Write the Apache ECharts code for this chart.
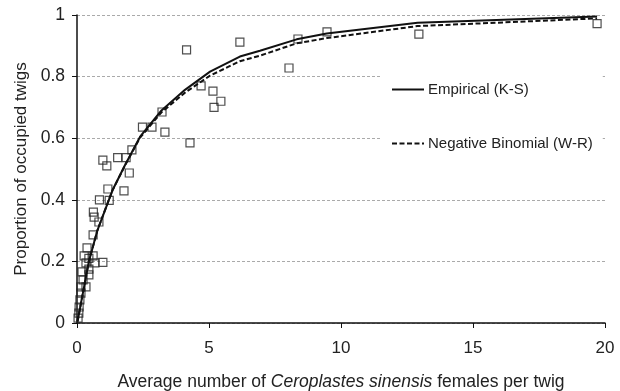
<!DOCTYPE html>
<html>
<head>
<meta charset="utf-8">
<script src="https://cdn.jsdelivr.net/npm/echarts@6/dist/echarts.min.js"></script>
<style>
  html, body { margin: 0; padding: 0; background: #fff; }
  #chart { width: 620px; height: 391px; }
</style>
</head>
<body>
<div id="chart"></div>
<script>
// observed points: mean density (m) and proportion occupied (p)
var obsM = [4.15, 6.17, 8.37, 9.47, 12.95, 19.7, 8.03, 4.7, 5.15, 5.45, 5.19, 3.22, 2.48, 2.84, 3.33, 4.28,
    2.08, 0.98, 1.13, 1.54, 1.86, 1.98, 1.17, 1.78, 0.85, 1.22, 0.62, 0.65, 0.83, 0.61, 0.38, 0.27,
    0.61, 0.45, 0.68, 0.98, 0.34, 0.45, 0.19, 0.45, 0.34, 0.23, 0.15, 0.15, 0.11, 0.08, 0.07, 0.04];
var obsP = [0.887, 0.912, 0.922, 0.945, 0.938, 0.972, 0.828, 0.77, 0.753, 0.72, 0.70, 0.685, 0.636, 0.636, 0.62, 0.585,
    0.562, 0.529, 0.51, 0.537, 0.537, 0.487, 0.435, 0.429, 0.40, 0.398, 0.36, 0.344, 0.328, 0.286, 0.244, 0.218,
    0.218, 0.21, 0.195, 0.197, 0.195, 0.175, 0.166, 0.156, 0.117, 0.14, 0.117, 0.097, 0.075, 0.052, 0.032, 0.016];

// fitted curves
var fitM = [0.02, 0.45, 0.77, 1.34, 1.82, 2.39, 3.2, 4.09, 5.04, 6.17, 6.93, 8.32, 9.46, 12.9, 19.7];
var empP = [0.005, 0.2, 0.30, 0.43, 0.513, 0.605, 0.69, 0.757, 0.816, 0.865, 0.884, 0.921, 0.94, 0.975, 0.995];
var nbP  = [0.005, 0.2, 0.30, 0.43, 0.512, 0.602, 0.684, 0.748, 0.803, 0.850, 0.868, 0.908, 0.925, 0.964, 0.989];

var xTicks = [0, 5, 10, 15, 20];
var yTicks = [0, 0.2, 0.4, 0.6, 0.8, 1];

function pairs(xs, ys) {
    var out = [];
    for (var i = 0; i < xs.length; i++) out.push([xs[i], ys[i]]);
    return out;
}

var myChart = echarts.init(document.getElementById('chart'));
var font = 'Liberation Sans, Arial, sans-serif';

var option = {
    animation: false,
    grid: { left: 77, right: 15, top: 15, bottom: 68, outerBoundsMode: 'none', containLabel: false },
    legend: {
        orient: 'vertical',
        left: 381,
        top: 70,
        padding: [12, 10, 12, 10],
        itemGap: 39,
        itemWidth: 32,
        itemHeight: 14,
        backgroundColor: '#fff',
        itemStyle: { opacity: 0 },
        data: ['Empirical (K-S)', 'Negative Binomial (W-R)'],
        textStyle: { fontFamily: font, fontSize: 15, color: '#222', padding: [0, 0, 0, -1] }
    },
    xAxis: {
        type: 'value',
        min: xTicks[0],
        max: xTicks[xTicks.length - 1],
        interval: 5,
        name: 'Average number of {i|Ceroplastes sinensis} females per twig',
        nameLocation: 'middle',
        nameGap: 50,
        nameTextStyle: {
            fontFamily: font, fontSize: 17.5, color: '#222',
            rich: { i: { fontFamily: font, fontSize: 17.5, color: '#222', fontStyle: 'italic' } }
        },
        axisLine: { lineStyle: { color: '#111', width: 1.5 } },
        axisTick: { show: true, length: 5, lineStyle: { color: '#111' } },
        axisLabel: { fontFamily: font, fontSize: 17, color: '#222', margin: 17 },
        splitLine: { show: false }
    },
    yAxis: {
        type: 'value',
        min: yTicks[0],
        max: yTicks[yTicks.length - 1],
        interval: 0.2,
        name: 'Proportion of occupied twigs',
        nameLocation: 'middle',
        nameGap: 45,
        nameTextStyle: { fontFamily: font, fontSize: 17, color: '#222' },
        axisLine: { show: true, lineStyle: { color: '#111', width: 1.5 } },
        axisTick: { show: true, length: 5, lineStyle: { color: '#111' } },
        axisLabel: {
            fontFamily: font, fontSize: 17.5, color: '#222', margin: 12,
            formatter: function (v) { return String(Math.round(v * 10) / 10); }
        },
        splitLine: { show: true, lineStyle: { color: '#aaa', width: 1, type: [3, 2] } }
    },
    series: [
        {
            name: 'Observed',
            type: 'scatter',
            z: 2,
            symbol: 'rect',
            symbolSize: 8,
            itemStyle: { color: 'rgba(255,255,255,0)', borderColor: '#222', borderWidth: 1.2 },
            data: pairs(obsM, obsP)
        },
        {
            name: 'Empirical (K-S)',
            type: 'line',
            z: 3,
            symbol: 'none',
            lineStyle: { color: '#111', width: 2 },
            itemStyle: { color: '#111' },
            data: pairs(fitM, empP)
        },
        {
            name: 'Negative Binomial (W-R)',
            type: 'line',
            z: 3,
            symbol: 'none',
            lineStyle: { color: '#111', width: 2, type: [5, 2.5] },
            itemStyle: { color: '#111' },
            data: pairs(fitM, nbP)
        }
    ]
};
myChart.setOption(option);
</script>
</body>
</html>
